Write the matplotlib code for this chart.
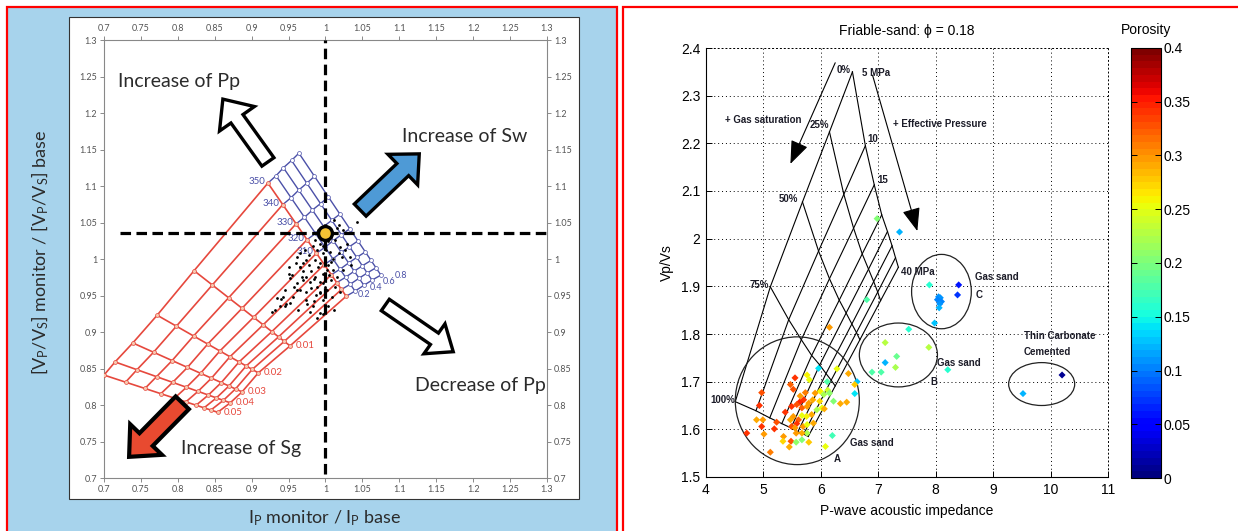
import numpy as np
import matplotlib
matplotlib.use('Agg')
import matplotlib.pyplot as plt
from matplotlib import ticker
from matplotlib.patches import Rectangle, Ellipse, FancyArrow

plt.rcParams['font.family'] = ['Liberation Sans', 'DejaVu Sans']
plt.rcParams['mathtext.fontset'] = 'custom'
plt.rcParams['mathtext.rm'] = 'Lato'
plt.rcParams['mathtext.it'] = 'Lato:italic'
plt.rcParams['mathtext.bf'] = 'Lato:bold'

# ---- 4D template (left): saturation curves given by their two end nodes,
# pressure curves by their relative position along each saturation curve
sg_levels = ['0.05', '0.04', '0.03', '0.02', '0.01', '0']
sg_left_x = [0.700, 0.715, 0.739, 0.772, 0.822, 0.922]
sg_left_y = [0.841, 0.859, 0.885, 0.923, 0.984, 1.104]
sg_right_x = [0.854, 0.871, 0.887, 0.909, 0.952, 1.028]
sg_right_y = [0.790, 0.803, 0.818, 0.844, 0.881, 0.949]

sw_levels = ['0.2', '0.4', '0.6', '0.8']
sw_left_x = [0.933, 0.943, 0.954, 0.964]
sw_left_y = [1.114, 1.125, 1.135, 1.145]
sw_right_x = [1.040, 1.052, 1.063, 1.075]
sw_right_y = [0.956, 0.964, 0.971, 0.978]

pp_levels = [350, 340, 330, 320, 310, 300, 290, 280, 270, 260]
pp_frac = [0.0, 0.19, 0.36, 0.50, 0.62, 0.72, 0.81, 0.88, 0.94, 1.0]

# monitor/base ratios of the seismic samples
ratio_ip = [1.011, 1.042, 1.015, 1.024, 0.986, 0.993, 1.004, 1.013, 1.020, 1.029,
            0.988, 0.997, 1.006, 0.965, 0.961, 0.974, 0.986, 0.999, 1.008, 0.990,
            0.981, 0.970, 0.965, 0.974, 0.986, 0.979, 0.961, 0.952, 0.950, 0.965,
            0.974, 0.956, 0.943, 0.947, 0.938, 1.002, 1.008, 1.013, 1.002, 0.988,
            1.024, 1.035, 1.033, 1.022, 1.020, 0.997, 0.950, 0.965, 0.970, 0.961,
            0.934, 0.945, 0.932, 0.974, 0.983, 0.992, 0.997, 0.992, 0.979, 0.988,
            0.927, 0.992, 0.996, 1.001, 0.983, 0.978, 0.993, 1.003, 0.996, 0.985,
            0.992, 1.005, 0.978, 0.970, 0.968, 0.981, 0.993, 1.010, 1.016, 1.018,
            1.027, 1.010, 0.999, 0.987, 0.958, 0.955, 0.945, 0.940, 0.952, 1.009,
            1.004, 0.996, 1.012, 0.963, 0.975, 0.960, 0.972, 0.990, 1.000, 1.018,
            0.985]
ratio_vpvs = [1.053, 1.051, 1.042, 1.040, 1.026, 1.021, 1.024, 1.026, 1.017, 1.021,
              1.012, 1.008, 1.010, 1.008, 1.003, 0.999, 0.999, 1.001, 0.996, 0.989,
              0.983, 0.983, 0.989, 0.976, 0.976, 0.969, 0.967, 0.974, 0.989, 0.958,
              0.955, 0.948, 0.948, 0.939, 0.935, 0.985, 0.971, 0.962, 0.958, 0.962,
              0.985, 0.992, 1.003, 1.003, 0.955, 0.944, 0.980, 0.989, 0.971, 0.957,
              0.946, 0.935, 0.930, 0.944, 0.935, 0.953, 0.967, 0.926, 0.928, 0.919,
              0.928, 1.030, 1.018, 1.013, 1.018, 1.005, 0.995, 0.992, 0.980, 0.972,
              0.968, 0.978, 0.992, 0.995, 0.975, 0.960, 0.955, 0.985, 0.975, 1.008,
              1.012, 1.000, 0.962, 0.951, 0.962, 0.978, 0.958, 0.945, 0.940, 0.948,
              0.935, 0.925, 0.930, 0.930, 0.938, 0.995, 1.012, 1.040, 1.045, 1.046,
              0.943]

# ---- friable-sand template (right): rows 0/25/50/75/100 % gas, columns 5..40 MPa
rpt_sat = ['0%', '25%', '50%', '75%', '100%']
rpt_mpa = [5, 10, 15, 20, 25, 30, 35, 40]
rpt_ip = [[6.55, 6.775, 6.93, 7.06, 7.16, 7.24, 7.30, 7.35],
          [6.15, 6.40, 6.57, 6.72, 6.83, 6.92, 6.99, 7.04],
          [5.68, 5.96, 6.15, 6.32, 6.44, 6.54, 6.62, 6.68],
          [5.12, 5.44, 5.66, 5.84, 5.98, 6.09, 6.18, 6.25],
          [4.51, 4.87, 5.11, 5.32, 5.48, 5.60, 5.70, 5.78]]
rpt_vpvs = [[2.350, 2.195, 2.113, 2.050, 2.015, 1.985, 1.960, 1.940],
            [2.224, 2.093, 2.022, 1.968, 1.936, 1.910, 1.888, 1.870],
            [2.077, 1.974, 1.916, 1.871, 1.844, 1.821, 1.803, 1.788],
            [1.899, 1.830, 1.788, 1.755, 1.735, 1.717, 1.703, 1.691],
            [1.658, 1.639, 1.624, 1.612, 1.603, 1.595, 1.590, 1.585]]

# well log samples
well_ip = [5.96, 6.28, 6.48, 6.63, 6.59, 6.59, 6.11, 5.76, 5.80, 5.55,
           5.47, 5.52, 4.97, 4.93, 5.73, 5.64, 5.70, 5.63, 5.58, 5.67,
           5.49, 5.76, 5.79, 5.86, 5.90, 5.99, 6.05, 6.12, 6.15, 5.98,
           6.02, 5.93, 6.06, 6.34, 6.45, 6.22, 5.84, 5.75, 5.38, 5.52,
           5.47, 5.61, 5.67, 5.23, 5.58, 5.49, 5.55, 5.69, 5.76, 5.87,
           5.76, 5.67, 5.57, 4.88, 4.99, 4.97, 4.71, 5.01, 5.19, 5.35,
           5.34, 5.48, 5.57, 5.67, 5.79, 5.45, 5.12, 6.20, 6.08, 6.15,
           6.80, 6.98, 7.37, 7.53, 7.12, 7.32, 7.12, 7.30, 6.89, 7.05,
           7.88, 8.21, 7.89, 8.40, 8.38, 8.05, 8.08, 8.03, 8.10, 8.07,
           8.06, 7.98, 10.20, 9.52]
well_vpvs = [1.728, 1.727, 1.717, 1.700, 1.694, 1.675, 1.700, 1.714, 1.704, 1.708,
             1.694, 1.684, 1.677, 1.650, 1.677, 1.670, 1.662, 1.657, 1.652, 1.645,
             1.648, 1.648, 1.655, 1.662, 1.676, 1.680, 1.673, 1.682, 1.676, 1.659,
             1.645, 1.641, 1.643, 1.654, 1.657, 1.659, 1.631, 1.627, 1.636, 1.627,
             1.620, 1.620, 1.629, 1.615, 1.612, 1.606, 1.603, 1.606, 1.610, 1.613,
             1.592, 1.592, 1.592, 1.620, 1.620, 1.606, 1.592, 1.590, 1.601, 1.585,
             1.575, 1.575, 1.573, 1.578, 1.573, 1.563, 1.552, 1.587, 1.564, 1.814,
             1.872, 2.042, 2.014, 1.810, 1.782, 1.753, 1.740, 1.730, 1.720, 1.720,
             1.772, 1.725, 1.903, 1.903, 1.882, 1.878, 1.876, 1.872, 1.868, 1.863,
             1.855, 1.823, 1.714, 1.675]
well_phi = [0.14, 0.25, 0.29, 0.13, 0.28, 0.14, 0.18, 0.26, 0.25, 0.34,
            0.32, 0.33, 0.33, 0.34, 0.31, 0.30, 0.34, 0.35, 0.33, 0.32,
            0.34, 0.30, 0.30, 0.29, 0.30, 0.26, 0.22, 0.24, 0.21, 0.27,
            0.25, 0.22, 0.29, 0.29, 0.29, 0.20, 0.29, 0.26, 0.34, 0.30,
            0.29, 0.32, 0.25, 0.33, 0.34, 0.33, 0.30, 0.30, 0.25, 0.29,
            0.22, 0.29, 0.30, 0.29, 0.30, 0.34, 0.34, 0.30, 0.34, 0.30,
            0.27, 0.33, 0.21, 0.20, 0.28, 0.29, 0.31, 0.17, 0.25, 0.30,
            0.18, 0.20, 0.12, 0.16, 0.23, 0.19, 0.12, 0.22, 0.18, 0.18,
            0.23, 0.16, 0.16, 0.06, 0.07, 0.11, 0.11, 0.10, 0.10, 0.11,
            0.12, 0.13, 0.01, 0.12]

# interpreted zones: centre x, centre y, width, height
zone_cx = [5.59, 7.35, 8.10, 9.845]
zone_cy = [1.660, 1.756, 1.889, 1.695]
zone_w = [2.16, 1.36, 1.04, 1.15]
zone_h = [0.268, 0.134, 0.156, 0.090]

W, H = 1238, 531


def box(x0, y0, x1, y1):
    return [x0 / W, 1 - y1 / H, (x1 - x0) / W, (y1 - y0) / H]


def mesh(lx, ly, rx, ry):
    lx, ly, rx, ry = (np.asarray(a, float) for a in (lx, ly, rx, ry))
    f = np.asarray(pp_frac)
    return (lx[:, None] + (rx - lx)[:, None] * f,
            ly[:, None] + (ry - ly)[:, None] * f)


fig = plt.figure(figsize=(12.38, 5.31), dpi=100)

# panel frames
fig.add_artist(Rectangle((7 / W, -0.05), 610 / W, 1.05 - 7 / H, transform=fig.transFigure,
                         fc='#a7d3ec', ec='#ff0000', lw=1.6, zorder=-10))
fig.add_artist(Rectangle((623 / W, -0.05), 700 / W, 1.05 - 7 / H, transform=fig.transFigure,
                         fc='white', ec='#ff0000', lw=1.6, zorder=-10))
fig.add_artist(Rectangle((69 / W, 1 - 499 / H), 510 / W, 482 / H, transform=fig.transFigure,
                         fc='white', ec='#333333', lw=0.8, zorder=-9))

# ================= left: 4D template =================
axL = fig.add_axes(box(104, 40, 547, 478))
axL.set_xlim(0.7, 1.3)
axL.set_ylim(0.7, 1.3)
ticks = np.arange(0.7, 1.3001, 0.05)
axL.set_xticks(ticks)
axL.set_yticks(ticks)
axL.xaxis.set_major_formatter(ticker.FormatStrFormatter('%g'))
axL.yaxis.set_major_formatter(ticker.FormatStrFormatter('%g'))
axL.tick_params(direction='out', length=3, width=0.6, color='#777777', labelsize=6.5,
                labelcolor='#555555', top=True, right=True, labeltop=True,
                labelright=True, pad=2)
for sp in axL.spines.values():
    sp.set_color('#888888')
    sp.set_linewidth(0.8)

red = '#e6483d'
navy = '#4b50a8'

gx, gy = mesh(sg_left_x, sg_left_y, sg_right_x, sg_right_y)
for i in range(gx.shape[0]):
    axL.plot(gx[i], gy[i], color=red, lw=1.2, zorder=2)
for j in range(gx.shape[1]):
    axL.plot(gx[:, j], gy[:, j], color=red, lw=1.2, zorder=2)
axL.plot(gx.ravel(), gy.ravel(), 'o', ms=2.8, mfc='#f7c9b0', mec=red, mew=0.5, zorder=3)

bx, by = mesh([sg_left_x[-1]] + sw_left_x, [sg_left_y[-1]] + sw_left_y,
              [sg_right_x[-1]] + sw_right_x, [sg_right_y[-1]] + sw_right_y)
for i in range(1, bx.shape[0]):
    axL.plot(bx[i], by[i], color=navy, lw=1.0, zorder=2)
for j in range(bx.shape[1]):
    axL.plot(bx[:, j], by[:, j], color=navy, lw=1.0, zorder=2)
axL.plot(bx[1:].ravel(), by[1:].ravel(), 'o', ms=2.8, mfc='white', mec=navy, mew=0.5, zorder=3)

for j in range(5):
    axL.text(gx[-1, j] - 0.004, gy[-1, j] + 0.002, str(pp_levels[j]), color=navy,
             fontsize=7, ha='right', va='center', family='Lato', zorder=4)
for i in range(5):
    axL.text(gx[i, -1] + 0.008, gy[i, -1], sg_levels[i], color=red, fontsize=7,
             ha='left', va='center', family='Lato', zorder=4)
# saturation labels of the water mesh, stepped so they sit side by side
for i in range(4):
    axL.text(bx[1, -1] + 0.004 + 0.0165 * i, by[1, -1] - 0.004 + 0.0085 * i, sw_levels[i],
             color=navy, fontsize=6.5, ha='left', va='center', family='Lato', zorder=4)

axL.scatter(ratio_ip, ratio_vpvs, s=4, c='k', lw=0, zorder=5)

axL.plot([1.0, 1.0], [0.705, 1.3], color='k', lw=2.3, ls=(0, (3.3, 1.7)), zorder=6)
axL.plot([0.722, 1.3], [1.035, 1.035], color='k', lw=2.3, ls=(0, (3.3, 1.7)), zorder=6)
axL.plot(1.0, 1.035, 'o', ms=10, mfc='#f3c234', mec='k', mew=2.4, zorder=7)

# direction arrows
axL.add_patch(FancyArrow(0.922, 1.133, -0.061, 0.086, width=0.020, head_width=0.058,
                         head_length=0.033, length_includes_head=True, fc='white',
                         ec='k', lw=2.4, joinstyle='miter', zorder=6))
axL.add_patch(FancyArrow(1.047, 1.067, 0.080, 0.077, width=0.023, head_width=0.058,
                         head_length=0.031, length_includes_head=True, fc='#4e9ad6',
                         ec='k', lw=2.4, joinstyle='miter', zorder=6))
axL.add_patch(FancyArrow(1.081, 0.937, 0.092, -0.064, width=0.019, head_width=0.050,
                         head_length=0.031, length_includes_head=True, fc='white',
                         ec='k', lw=2.4, joinstyle='miter', zorder=6))
axL.add_patch(FancyArrow(0.806, 0.803, -0.072, -0.074, width=0.025, head_width=0.060,
                         head_length=0.033, length_includes_head=True, fc='#e84a30',
                         ec='k', lw=3.0, joinstyle='miter', zorder=6))

for x, y, s in [(0.719, 1.243, 'Increase of Pp'), (1.104, 1.168, 'Increase of Sw'),
                (1.121, 0.827, 'Decrease of Pp'), (0.804, 0.741, 'Increase of Sg')]:
    axL.text(x, y, s, fontsize=14, color='#2b2b2b', ha='left', va='center',
             family='Lato', zorder=8)

fig.text(40 / W, 1 - 252 / H, r'$\mathrm{[V_P/V_S]}$ monitor / $\mathrm{[V_P/V_S]}$ base',
         rotation=90, ha='center', va='center', fontsize=13, color='#2b2b2b', family='Lato')
fig.text(325 / W, 1 - 518 / H, r'$\mathrm{I_P}$ monitor / $\mathrm{I_P}$ base',
         ha='center', va='center', fontsize=13, color='#2b2b2b', family='Lato')

for lab in axL.get_xticklabels() + axL.get_yticklabels():
    lab.set_family('Lato')

# ================= right: friable-sand template =================
axR = fig.add_axes(box(706, 48, 1108, 477))
axR.set_xlim(4, 11)
axR.set_ylim(1.5, 2.4)
axR.set_xticks(range(4, 12))
axR.set_yticks(np.arange(1.5, 2.401, 0.1))
axR.yaxis.set_major_formatter(ticker.FormatStrFormatter('%g'))
axR.grid(True, color='k', lw=0.7, ls=(0, (1, 3)))
axR.tick_params(direction='in', length=4, width=0.7, labelsize=10, pad=4)
for side in ['top', 'right']:
    axR.spines[side].set_linestyle((0, (1, 3)))
    axR.spines[side].set_linewidth(0.7)

ip = np.asarray(rpt_ip)
vv = np.asarray(rpt_vpvs)
for i in range(ip.shape[0]):
    axR.plot(ip[i], vv[i], color='k', lw=0.8, zorder=2)
for j in range(ip.shape[1]):
    axR.plot(ip[:, j], vv[:, j], color='k', lw=0.8, zorder=2)

lab_kw = dict(fontsize=7, fontweight='bold', color='#1c1c28', zorder=5)
axR.text(ip[0, 0] - 0.03, vv[0, 0] + 0.004, rpt_sat[0], ha='right', va='center', **lab_kw)
axR.text(ip[1, 0], vv[1, 0] + 0.015, rpt_sat[1], ha='right', va='center', **lab_kw)
axR.text(ip[2, 0] - 0.07, vv[2, 0] + 0.006, rpt_sat[2], ha='right', va='center', **lab_kw)
axR.text(ip[3, 0] - 0.03, vv[3, 0] + 0.004, rpt_sat[3], ha='right', va='center', **lab_kw)
axR.text(ip[4, 0] - 0.01, vv[4, 0] + 0.004, rpt_sat[4], ha='right', va='center', **lab_kw)
axR.text(6.72, vv[0, 0] - 0.002, '%d MPa' % rpt_mpa[0], ha='left', va='center', **lab_kw)
axR.text(ip[0, 1] + 0.03, vv[0, 1] + 0.014, str(rpt_mpa[1]), ha='left', va='center', **lab_kw)
axR.text(ip[0, 2] + 0.06, vv[0, 2] + 0.010, str(rpt_mpa[2]), ha='left', va='center', **lab_kw)
axR.text(ip[0, 7] + 0.04, vv[0, 7] - 0.010, '%d MPa' % rpt_mpa[7], ha='left', va='center', **lab_kw)

arrow_kw = dict(arrowstyle='-|>,head_length=0.9,head_width=0.35', lw=0.8, color='k',
                mutation_scale=16, shrinkA=0, shrinkB=0)
axR.annotate('', xy=(5.47, 2.157), xytext=(6.25, 2.369), arrowprops=arrow_kw, zorder=4)
axR.annotate('', xy=(7.68, 2.016), xytext=(6.90, 2.343), arrowprops=arrow_kw, zorder=4)
axR.text(4.33, 2.25, '+ Gas saturation', ha='left', va='center', **lab_kw)
axR.text(7.26, 2.24, '+ Effective Pressure', ha='left', va='center', **lab_kw)

for cx, cy, w, h in zip(zone_cx, zone_cy, zone_w, zone_h):
    axR.add_patch(Ellipse((cx, cy), w, h, fill=False, ec='#222222', lw=0.9, zorder=2))
for x, y, s in [(6.51, 1.572, 'Gas sand'), (6.22, 1.537, 'A'), (8.03, 1.740, 'Gas sand'),
                (7.91, 1.700, 'B'), (8.69, 1.920, 'Gas sand'), (8.70, 1.882, 'C'),
                (9.53, 1.796, 'Thin Carbonate'), (9.53, 1.762, 'Cemented')]:
    axR.text(x, y, s, ha='left', va='center', **lab_kw)

jet = plt.get_cmap('jet', 64)
sc = axR.scatter(well_ip, well_vpvs, c=well_phi, cmap=jet, vmin=0, vmax=0.4,
                 marker='D', s=13, edgecolors='none', zorder=3)

axR.set_title('Friable-sand: \u03d5 = 0.18', fontsize=10, pad=9)
axR.set_xlabel('P-wave acoustic impedance', fontsize=10, labelpad=5)
axR.set_ylabel('Vp/Vs', fontsize=10, labelpad=5)

cax = fig.add_axes(box(1131, 48, 1161, 478))
cb = fig.colorbar(sc, cax=cax, ticks=np.arange(0, 0.401, 0.05))
cb.ax.yaxis.set_major_formatter(ticker.FormatStrFormatter('%g'))
cb.ax.tick_params(direction='in', length=4, width=0.7, labelsize=10, left=True,
                  right=True, pad=2)
cb.outline.set_linewidth(0.8)
cax.text(0.5, 1.025, 'Porosity', transform=cax.transAxes, ha='center', va='bottom', fontsize=10)

fig.savefig('out.png', dpi=100)
